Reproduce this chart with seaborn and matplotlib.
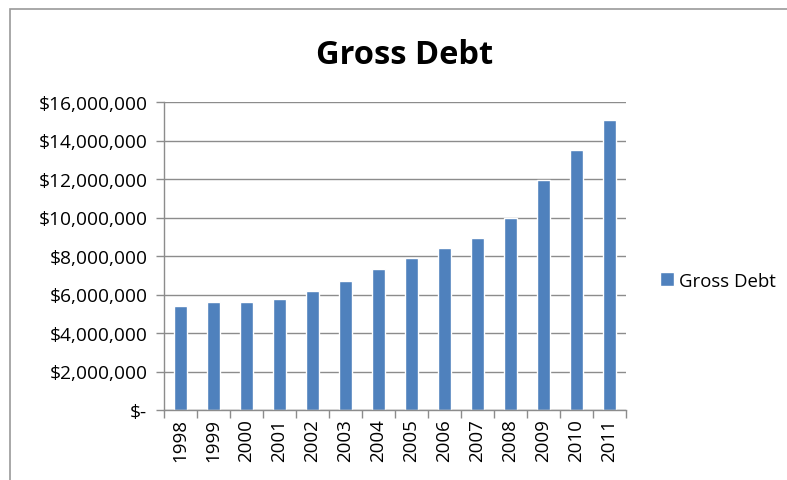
import matplotlib
matplotlib.use("Agg")
import matplotlib.pyplot as plt
import seaborn as sns
import pandas as pd
import numpy as np
from matplotlib.patches import Rectangle
from matplotlib.ticker import FixedLocator, FuncFormatter

years = ["1998", "1999", "2000", "2001", "2002", "2003", "2004",
         "2005", "2006", "2007", "2008", "2009", "2010", "2011"]
gross_debt = [5420000, 5590000, 5590000, 5770000, 6200000, 6720000, 7320000,
              7910000, 8410000, 8930000, 9960000, 11930000, 13500000, 15040000]
series_name = "Gross Debt"

df = pd.DataFrame({"Year": years, "Value": gross_debt, "Series": series_name})

sns.set_theme(style="white")
plt.rcParams["font.family"] = ["Open Sans", "DejaVu Sans"]
plt.rcParams["text.color"] = "black"
plt.rcParams["xtick.labelcolor"] = "black"
plt.rcParams["ytick.labelcolor"] = "black"

fig = plt.figure(figsize=(7.87, 4.81), dpi=100)
ax = fig.add_axes([164/787, 1-411/481, (626-164)/787, (411-103)/481])

sns.barplot(data=df, x="Year", y="Value", hue="Series", palette=["#4F81BD"],
            width=0.4, ax=ax, saturation=1, legend=True)

ax.set_ylim(0, 16000000)
ax.set_xlim(-0.5, len(years) - 0.5)
ax.set_yticks(np.arange(0, 16000001, 2000000))

def fmt(v, pos):
    if v == 0:
        return "$-"
    return "${:,.0f}".format(v)
ax.yaxis.set_major_formatter(FuncFormatter(fmt))
ax.yaxis.grid(True, color="#8c8c8c", linewidth=1)
ax.set_axisbelow(True)

ax.set_xlabel("")
ax.set_ylabel("")
ax.tick_params(axis="x", which="major", length=0, labelrotation=90, labelsize=13.5,
               pad=6, labelcolor="black")
ax.xaxis.set_minor_locator(FixedLocator(np.arange(-0.5, len(years), 1.0)))
ax.tick_params(axis="x", which="minor", length=6, color="#8c8c8c", width=1, direction="out", bottom=True)
ax.tick_params(axis="y", length=6, color="#8c8c8c", width=1, direction="out",
               labelsize=13.8, left=True, pad=6, labelcolor="black")

for s in ["top", "right"]:
    ax.spines[s].set_visible(False)
for s in ["left", "bottom"]:
    ax.spines[s].set_color("#8c8c8c")
    ax.spines[s].set_linewidth(1)

leg = ax.legend(loc="center left", bbox_to_anchor=(1.037, 0.42), frameon=False,
                fontsize=13.4, handlelength=0.75, handleheight=0.75, handletextpad=0.3)
for t in leg.get_texts():
    t.set_color("black")

fig.suptitle("Gross Debt", x=405/787, y=1-55/481, va="center",
             fontsize=23.5, fontweight="bold", color="black")

fig.patches.append(Rectangle((10/787, -0.1), 1.2, 1 - 10/481 + 0.1,
                             transform=fig.transFigure, fill=False,
                             edgecolor="#9a9a9a", linewidth=1.2))

fig.savefig("out.png", dpi=100)
